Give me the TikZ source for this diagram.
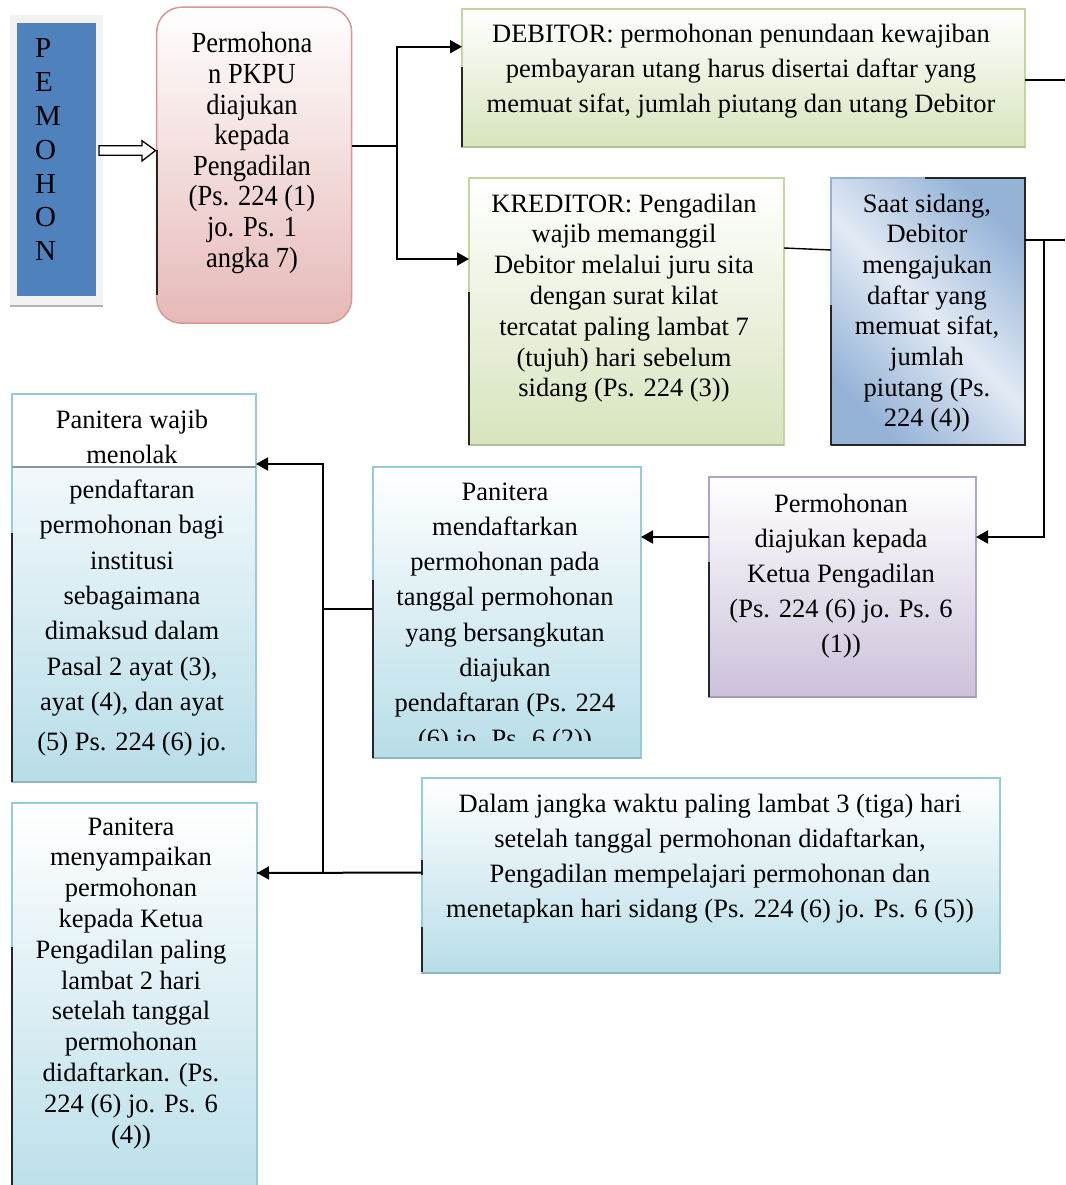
\documentclass[tikz,border=0pt]{standalone}
\usepackage{fontspec}
\setmainfont{Liberation Serif}
\usepackage{graphicx}
\usetikzlibrary{arrows.meta,calc}
\definecolor{grnF}{HTML}{D7E4BD}
\definecolor{grnB}{HTML}{C3D69B}
\definecolor{pnkF}{HTML}{E6B9B8}
\definecolor{pnkB}{HTML}{D99694}
\definecolor{purF}{HTML}{CCC1DA}
\definecolor{purB}{HTML}{B3A2C7}
\definecolor{aquF}{HTML}{B7DDE8}
\definecolor{aquB}{HTML}{93CDDD}
\definecolor{bluD}{HTML}{95B3D7}
\definecolor{bluL}{HTML}{E2EAF4}
\definecolor{pemB}{HTML}{4F81BD}
\definecolor{frm}{HTML}{F2F2F2}
\definecolor{shd}{HTML}{262626}
\newcommand\tb[2]{{\fontsize{26.5}{#1}\selectfont\begin{tabular}[t]{@{}c@{}}#2\end{tabular}}}
\tikzset{
  txt/.style={anchor=base, inner sep=0pt, outer sep=0pt},
  bx/.style={rectangle, inner sep=0pt, outer sep=0pt, line width=1.5pt},
  gbox/.style={bx, draw=grnB, top color=white, bottom color=grnF},
  pbox/.style={bx, draw=purB, top color=white, bottom color=purF},
  abox/.style={bx, draw=aquB, top color=white, bottom color=aquF},
  ln/.style={line width=2pt},
  thinln/.style={line width=1.4pt},
  arr/.style={line width=2pt, -{Triangle[length=12pt,width=13pt]}},
  dseg/.style={line width=2.5pt, shd},
  bshadow/.style={line width=2.5pt, #1},
}
\begin{document}
\begin{tikzpicture}[x=1pt,y=-1pt]
\useasboundingbox (0,0) rectangle (1065,1185);
\clip (0,0) rectangle (1065,1185);
\fill[white] (0,0) rectangle (1065,1185);

% PEMOHON
\node[bx, fill=frm, minimum width=93pt, minimum height=291pt] (pemf) at (56.5,160.5) {};
\draw[bshadow=gray!60] (pemf.south west) -- (pemf.south east);
\node[bx, fill=pemB, minimum width=79pt, minimum height=273pt] (pem) at (56.5,159.7) {};
\node[txt, anchor=base west] (pemt) at (35,58) {{\fontsize{29}{33.8}\selectfont\begin{tabular}[t]{@{}l@{}}P\\E\\M\\O\\H\\O\\N\end{tabular}}};

% Permohonan PKPU
\node[bx, draw=pnkB, rounded corners=25pt, top color=white, bottom color=pnkF, minimum width=195pt, minimum height=316pt] (pk) at (254.2,165.2) {};
\draw[dseg, line width=2pt] (157,150) -- (157,295);
\node[txt] (pkt) at (252,53) {\scalebox{1}[1.1]{\tb{27.8}{Permohona\\n PKPU\\diajukan\\kepada\\Pengadilan\\(Ps. 224 (1)\\jo. Ps. 1\\angka 7)}}};

% hollow arrow
\draw[line width=1.3pt, fill=white] (99,145.7) -- (142,145.7) -- (142,140.7) -- (155.5,150.5) -- (142,161) -- (142,155.3) -- (99,155.3) -- cycle;

% DEBITOR
\node[gbox, minimum width=563pt, minimum height=138pt] (deb) at (743.5,78) {};
\draw[bshadow=grnB!75!gray] (deb.south west) -- (deb.south east);
\draw[dseg] (462,67) -- (462,147);
\node[txt] (debt) at (741,43) {\tb{35}{DEBITOR: permohonan penundaan kewajiban\\pembayaran utang harus disertai daftar yang\\memuat sifat, jumlah piutang dan utang Debitor}};

% KREDITOR
\node[gbox, minimum width=315pt, minimum height=267pt] (kred) at (626.5,311.5) {};
\draw[bshadow=grnB!75!gray] (kred.south west) -- (kred.south east);
\draw[dseg] (469,292) -- (469,445);
\node[txt] (kredt) at (624,212) {\tb{30.8}{KREDITOR: Pengadilan\\wajib memanggil\\Debitor melalui juru sita\\dengan surat kilat\\tercatat paling lambat 7\\(tujuh) hari sebelum\\sidang (Ps. 224 (3))}};

% Saat sidang
\node[bx, draw=bluD, shading=axis, top color=bluD, bottom color=bluD, middle color=bluL, shading angle=-45, minimum width=194pt, minimum height=267pt] (saat) at (928,311.5) {};
\draw[dseg] (831,305) -- (831,445);
\draw[dseg] (925,178) -- (1025,178) -- (1025,445) -- (831,445);
\node[txt] (saatt) at (927,212) {\tb{30.7}{Saat sidang,\\Debitor\\mengajukan\\daftar yang\\memuat sifat,\\jumlah\\piutang (Ps.\\224 (4))}};

% Permohonan diajukan kepada Ketua
\node[pbox, minimum width=267pt, minimum height=220pt] (pur) at (842.5,587) {};
\draw[bshadow=purB!75!gray] (pur.south west) -- (pur.south east);
\draw[dseg] (709,562) -- (709,697);
\node[txt] (purt) at (841,512) {\tb{35.2}{Permohonan\\diajukan kepada\\Ketua Pengadilan\\(Ps. 224 (6) jo. Ps. 6\\(1))}};

% Panitera mendaftarkan
\node[abox, minimum width=268pt, minimum height=291pt] (daf) at (507,612.5) {};
\draw[bshadow=aquB!70!gray] (daf.south west) -- (daf.south east);
\draw[dseg] (373,580) -- (373,758);
\begin{scope}
\clip (daf.north west) rectangle ([yshift=18pt]daf.south east);
\node[txt] (daft) at (505,500) {\tb{35.3}{Panitera\\mendaftarkan\\permohonan pada\\tanggal permohonan\\yang bersangkutan\\diajukan\\pendaftaran (Ps. 224\\(6) jo. Ps. 6 (2))}};
\end{scope}

% Panitera wajib menolak
\node[abox, minimum width=244pt, minimum height=388pt] (waj) at (134,588) {};
\node[bx, draw=aquB, fill=white, minimum width=244pt, minimum height=73pt] (wajtop) at (134,430.5) {};
\draw[line width=2pt, gray!70!aquB] (wajtop.south west) -- (wajtop.south east);
\draw[bshadow=aquB!70!gray] (waj.south west) -- (waj.south east);
\draw[dseg] (12,533) -- (12,782);
\node[txt] (wajt) at (132,428) {\tb{35.3}{Panitera wajib\\menolak\\pendaftaran\\permohonan bagi\\institusi\\sebagaimana\\dimaksud dalam\\Pasal 2 ayat (3),\\ayat (4), dan ayat\\[4.7pt](5) Ps. 224 (6) jo.}};

% Dalam jangka waktu
\node[abox, minimum width=578pt, minimum height=195pt] (dal) at (711,875.5) {};
\draw[bshadow=aquB!70!gray] (dal.south west) -- (dal.south east);
\draw[dseg] (422,860) -- (422,875);
\draw[dseg] (422,927) -- (422,972);
\node[txt] (dalt) at (710,812) {\tb{35.3}{Dalam jangka waktu paling lambat 3 (tiga) hari\\setelah tanggal permohonan didaftarkan,\\Pengadilan mempelajari permohonan dan\\menetapkan hari sidang (Ps. 224 (6) jo. Ps. 6 (5))}};

% Panitera menyampaikan
\node[abox, minimum width=245pt, minimum height=412pt] (sam) at (134.5,1009) {};
\draw[dseg] (12,947) -- (12,1185);
\node[txt] (samt) at (131,835) {\tb{30.8}{Panitera\\menyampaikan\\permohonan\\kepada Ketua\\Pengadilan paling\\lambat 2 hari\\setelah tanggal\\permohonan\\didaftarkan. (Ps.\\224 (6) jo. Ps. 6\\(4))}};

% connectors
\coordinate (dout) at (1065,80);
\coordinate (sout) at (1065,240);
\coordinate (j2) at (1044,240);
\coordinate (j3) at (323,609);

\draw[ln] ([yshift=19.2pt]pk.east) -- ++(45pt,0) coordinate (j1);
\draw[arr] (j1) |- ([yshift=31.3pt]deb.west);
\draw[arr] (j1) |- ([yshift=52.5pt]kred.west);
\draw[thinln] ([yshift=63.5pt]kred.east) -- ([yshift=61.5pt]saat.west);
\draw[thinln] ([yshift=-2pt]deb.east) -- (dout);
\draw[ln] ([yshift=71.5pt]saat.east) -- (sout);
\draw[arr] (j2) |- ([yshift=50pt]pur.east);
\draw[arr] ([yshift=50pt]pur.west) -- ([yshift=75.5pt]daf.east);
\draw[ln] ([yshift=3.5pt]daf.west) -- (j3);
\draw[arr] (j3) |- ([yshift=124pt]waj.east);
\draw[ln] (j3) |- ([yshift=136pt]sam.east);
\draw[arr] ([yshift=3pt]dal.west) -- ([yshift=136pt]sam.east);
\end{tikzpicture}
\end{document}
